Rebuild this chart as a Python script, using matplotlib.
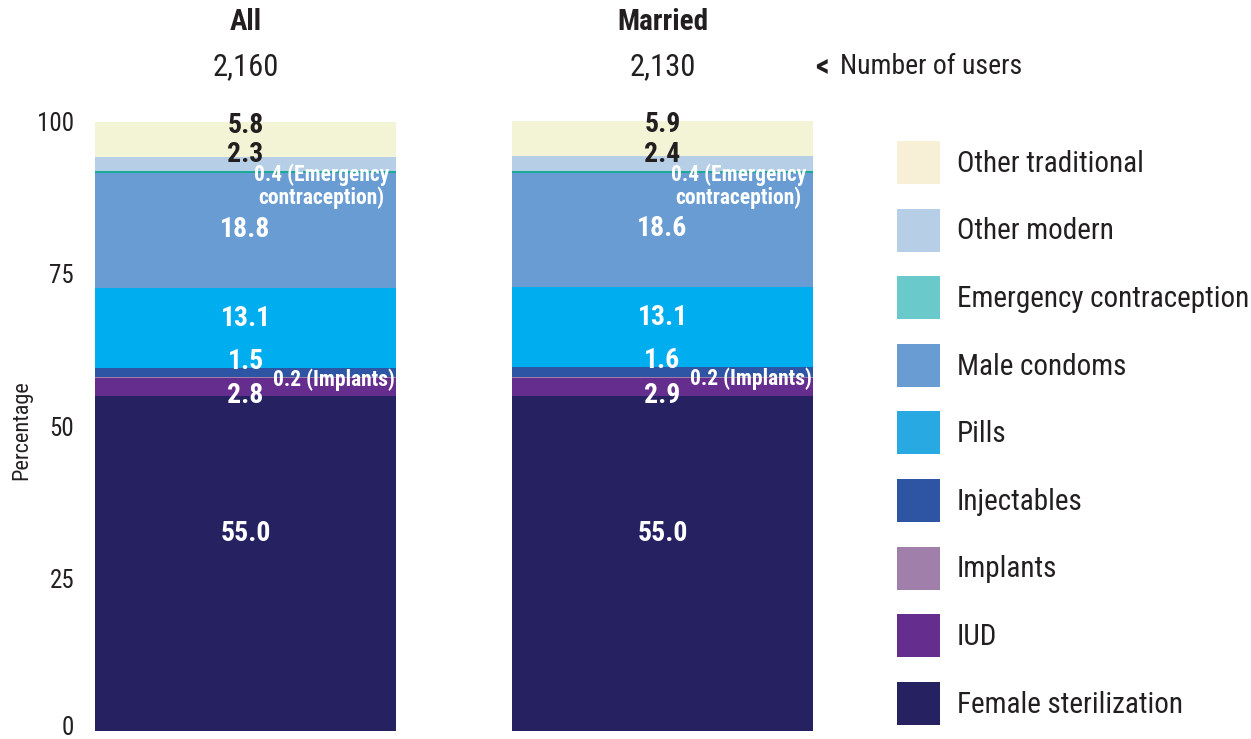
import numpy as np
import matplotlib
matplotlib.use('Agg')
import matplotlib.pyplot as plt
import matplotlib.transforms as mtransforms
from matplotlib import font_manager
from matplotlib.patches import Patch

# data (bottom to top of the stack)
methods = ['Female sterilization', 'IUD', 'Implants', 'Injectables', 'Pills',
           'Male condoms', 'Emergency contraception', 'Other modern', 'Other traditional']
groups = ['All', 'Married']
users = ['2,160', '2,130']
all_vals = [55.0, 2.8, 0.2, 1.5, 13.1, 18.8, 0.4, 2.3, 5.8]
married_vals = [55.0, 2.9, 0.2, 1.6, 13.1, 18.6, 0.4, 2.4, 5.9]
yticks = [0, 25, 50, 75, 100]

bar_colors = ['#262262', '#652D8E', '#A080AA', '#2E54A4', '#00AEEF',
              '#689CD2', '#1BA99A', '#B7CFE6', '#F3F3D6']
legend_colors = ['#262262', '#652D8E', '#A080AA', '#2E54A4', '#29A9E1',
                 '#689CD2', '#6AC9CA', '#B7CFE6', '#F7EFD6']
dark = '#231F20'

# pick a narrow font if there is one
names = {f.name for f in font_manager.fontManager.ttflist}
narrow = [n for n in ['Roboto Condensed', 'Liberation Sans Narrow', 'DejaVu Sans Condensed']
          if n in names]
plt.rcParams['font.family'] = narrow + ['DejaVu Sans']

W, H = 1251, 739
fig = plt.figure(figsize=(W / 100, H / 100), dpi=100)
ax = fig.add_axes([95 / W, 8 / H, 718 / W, 610 / H])

width = 0.722
x = np.arange(len(groups))
series = [all_vals, married_vals]

# label tweaks relative to segment centre
offsets = [4.8, -1.4, -0.25, 1.9, 1.6, 0.2, -2.3, 1.5, 2.3]

bottoms = np.zeros(len(groups))
for k, m in enumerate(methods):
    vals = np.array([s[k] for s in series])
    ax.bar(x, vals, width, bottom=bottoms, color=bar_colors[k], linewidth=0)
    for i in range(len(groups)):
        yc = bottoms[i] + vals[i] / 2 + offsets[k]
        if m == 'Implants':
            ax.text(x[i] + width / 2 - 0.002, yc, f'{vals[i]:.1f} (Implants)', ha='right',
                    va='center', color='white', fontsize=15.5, fontweight='bold')
        elif m == 'Emergency contraception':
            ax.text(x[i] + width / 2 - 0.016, yc, f'{vals[i]:.1f} (Emergency\ncontraception)',
                    ha='right', va='center', multialignment='center', color='white',
                    fontsize=15.5, fontweight='bold', linespacing=1.05)
        else:
            col = dark if m in ('Other modern', 'Other traditional') else 'white'
            ax.text(x[i], yc, f'{vals[i]:.1f}', ha='center', va='center', color=col,
                    fontsize=20, fontweight='bold')
    bottoms += vals

ax.set_xlim(-width / 2, 1 + width / 2)
ax.set_ylim(0, 100)
ax.set_yticks(yticks)
ax.set_yticklabels([str(t) for t in yticks], fontsize=18, color=dark)
ax.tick_params(axis='y', length=0, pad=15)
ax.set_xticks([])
for s in ax.spines.values():
    s.set_visible(False)
# keep the "0" inside the figure
lab0 = ax.get_yticklabels()[0]
lab0.set_transform(lab0.get_transform() +
                   mtransforms.ScaledTranslation(0, 4 / 72, fig.dpi_scale_trans))

fig.text(22 / W, 1 - 430 / H, 'Percentage', rotation=90, ha='center', va='center',
         fontsize=16, color=dark)

# headers above the bars
for i, g in enumerate(groups):
    xc = ax.transData.transform((x[i], 0))[0] / W
    fig.text(xc, 1 - 22 / H, g, ha='center', va='center', fontsize=21,
             fontweight='bold', color=dark)
    fig.text(xc, 1 - 67 / H, users[i], ha='center', va='center', fontsize=22, color=dark)
fig.text(815 / W, 1 - 66 / H, '<', ha='left', va='center', fontsize=22,
         fontweight='bold', color=dark)
fig.text(840 / W, 1 - 66 / H, 'Number of users', ha='left', va='center', fontsize=20,
         color=dark)

# legend, top entry first
handles = [Patch(facecolor=legend_colors[k], edgecolor='none', label=methods[k])
           for k in range(len(methods) - 1, -1, -1)]
fs = 21
fpx = fs * 100 / 72
hh = (43 / fpx - 0.245) / 0.65
fig.legend(handles=handles, loc='upper left', bbox_to_anchor=(897 / W, 1 - 141 / H),
           frameon=False, fontsize=fs, handlelength=43 / fpx, handleheight=hh,
           handletextpad=17 / fpx, labelspacing=(67.6 - 43) / fpx, borderpad=0,
           borderaxespad=0, labelcolor=dark)

fig.savefig('out.png', dpi=100)
